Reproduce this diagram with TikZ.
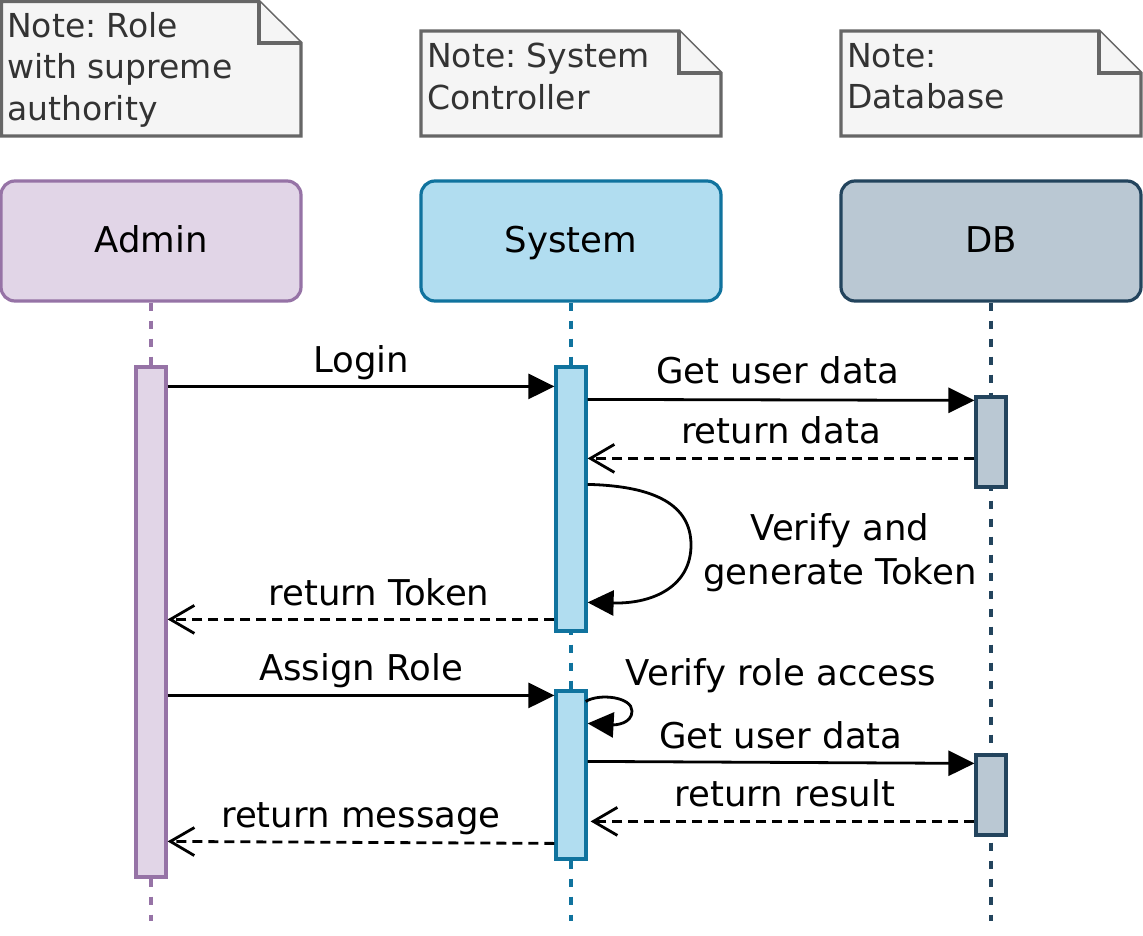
\documentclass[tikz,border=0pt]{standalone}
\usepackage{fontspec}
\setmainfont{DejaVu Sans}
\frenchspacing
\usetikzlibrary{arrows.meta,calc}
\definecolor{notefill}{HTML}{F5F5F5}
\definecolor{notedraw}{HTML}{666666}
\definecolor{notetext}{HTML}{333333}
\definecolor{adminfill}{HTML}{E1D5E7}
\definecolor{admindraw}{HTML}{9673A6}
\definecolor{sysfill}{HTML}{B1DDF0}
\definecolor{sysdraw}{HTML}{10739E}
\definecolor{dbfill}{HTML}{BAC8D3}
\definecolor{dbdraw}{HTML}{23445D}
\tikzset{
  notebox/.style={draw=notedraw, fill=notefill, line width=3.2pt, line join=miter},
  notelabel/.style={anchor=north west, inner sep=0pt, align=left, text=notetext,
    font=\fontsize{33}{41.5}\selectfont},
  header/.style={draw=#1draw, fill=#1fill, line width=3.2pt, rounded corners=14pt,
    minimum width=300pt, minimum height=120pt, inner sep=0pt,
    text height=22pt, text depth=0pt, font=\fontsize{35.5}{44}\selectfont},
  lifeline/.style={draw=#1draw, line width=3.2pt, dash pattern=on 8pt off 10pt},
  actbar/.style={draw=#1draw, fill=#1fill, line width=3.2pt, minimum width=30pt,
    inner sep=0pt},
  msg/.style={line width=2.8pt, -{Triangle[length=26pt,width=25pt]}},
  reply/.style={line width=2.8pt, dash pattern=on 10pt off 6pt,
    -{Straight Barb[length=24pt,width=28pt,line width=2.8pt]}},
  msglabel/.style={anchor=base, inner sep=0pt, font=\fontsize{35.5}{44}\selectfont},
}
\begin{document}
\begin{tikzpicture}[x=1pt, y=-1pt]
\fill[white] (0,0) rectangle (1143,936);
\useasboundingbox (0,0) rectangle (1143,936);

% notes
\draw[notebox] (1.5,1.5) -- (259,1.5) -- (301,43) -- (301,136) -- (1.5,136) -- cycle;
\draw[notebox] (259,1.5) -- (259,43) -- (301,43);
\node[notelabel] (n1) at (7,12) {Note: Role\\with supreme\\authority};

\draw[notebox] (421,31) -- (679,31) -- (721,73) -- (721,136) -- (421,136) -- cycle;
\draw[notebox] (679,31) -- (679,73) -- (721,73);
\node[notelabel] (n2) at (427,43) {Note: System\\Controller};

\draw[notebox] (841,31) -- (1099,31) -- (1141,73) -- (1141,136) -- (841,136) -- cycle;
\draw[notebox] (1099,31) -- (1099,73) -- (1141,73);
\node[notelabel] (n3) at (847,43) {Note:\\Database};

% headers
\node[header=admin] (admin) at (151,241) {Admin};
\node[header=sys] (sys) at (571,241) {System};
\node[header=db] (db) at (991,241) {DB};

% lifelines
\coordinate (aend) at (151,921);
\coordinate (send) at (571,921);
\coordinate (dend) at (991,921);
\draw[lifeline=admin] (admin.south) -- (aend);
\draw[lifeline=sys] (sys.south) -- (send);
\draw[lifeline=db] (db.south) -- (dend);

% activation bars
\node[actbar=admin, minimum height=510pt] (a1) at (151,622) {};
\node[actbar=sys, minimum height=264pt] (s1) at (571,499) {};
\node[actbar=sys, minimum height=168pt] (s2) at (571,775) {};
\node[actbar=db, minimum height=90pt] (d1) at (991,442) {};
\node[actbar=db, minimum height=80pt] (d2) at (991,795) {};

% messages
\draw[msg] ($(a1.north east)+(0,21)$) -- ($(s1.north west)+(0,21)$);
\node[msglabel] (l1) at (361,372) {Login};

\draw[msg] ($(s1.north east)+(0,34)$) -- ($(d1.north west)+(0,5)$);
\node[msglabel] (l2) at (778,383) {Get user data};

\draw[reply] ($(d1.north west)+(0,63)$) -- ($(s1.north east)+(0,93)$);
\node[msglabel] (l3) at (781,443) {return data};

\draw[msg] ($(s1.north east)+(0,119)$) .. controls (655,486) and (691,505) .. (691,545)
  .. controls (691,585) and (655,604) .. ($(s1.north east)+(0,237)$);
\node[msglabel, align=center] (l4) at (840,584) {Verify and\\generate Token};

\draw[reply] ($(s1.north west)+(0,254)$) -- ($(a1.north east)+(0,254)$);
\node[msglabel] (l5) at (379,605) {return Token};

\draw[msg] ($(a1.north east)+(0,330)$) -- ($(s2.north west)+(0,6)$);
\node[msglabel] (l6) at (361,680) {Assign Role};

\draw[msg] ($(s2.north east)+(-2,12)$) .. controls (600,693) and (632,697) .. (632,711)
  .. controls (632,724) and (615,725) .. ($(s2.north east)+(0,34)$);
\node[msglabel] (l7) at (781,685) {Verify role access};

\draw[msg] ($(s2.north east)+(0,72)$) -- ($(d2.north west)+(0,10)$);
\node[msglabel] (l8) at (781,748) {Get user data};

\draw[reply] ($(d2.north west)+(0,68)$) -- ($(s2.north east)+(3,132)$);
\node[msglabel] (l9) at (785,806) {return result};

\draw[reply] ($(s2.north west)+(0,154)$) -- ($(a1.north east)+(0,476)$);
\node[msglabel] (l10) at (361,827) {return message};
\end{tikzpicture}
\end{document}
